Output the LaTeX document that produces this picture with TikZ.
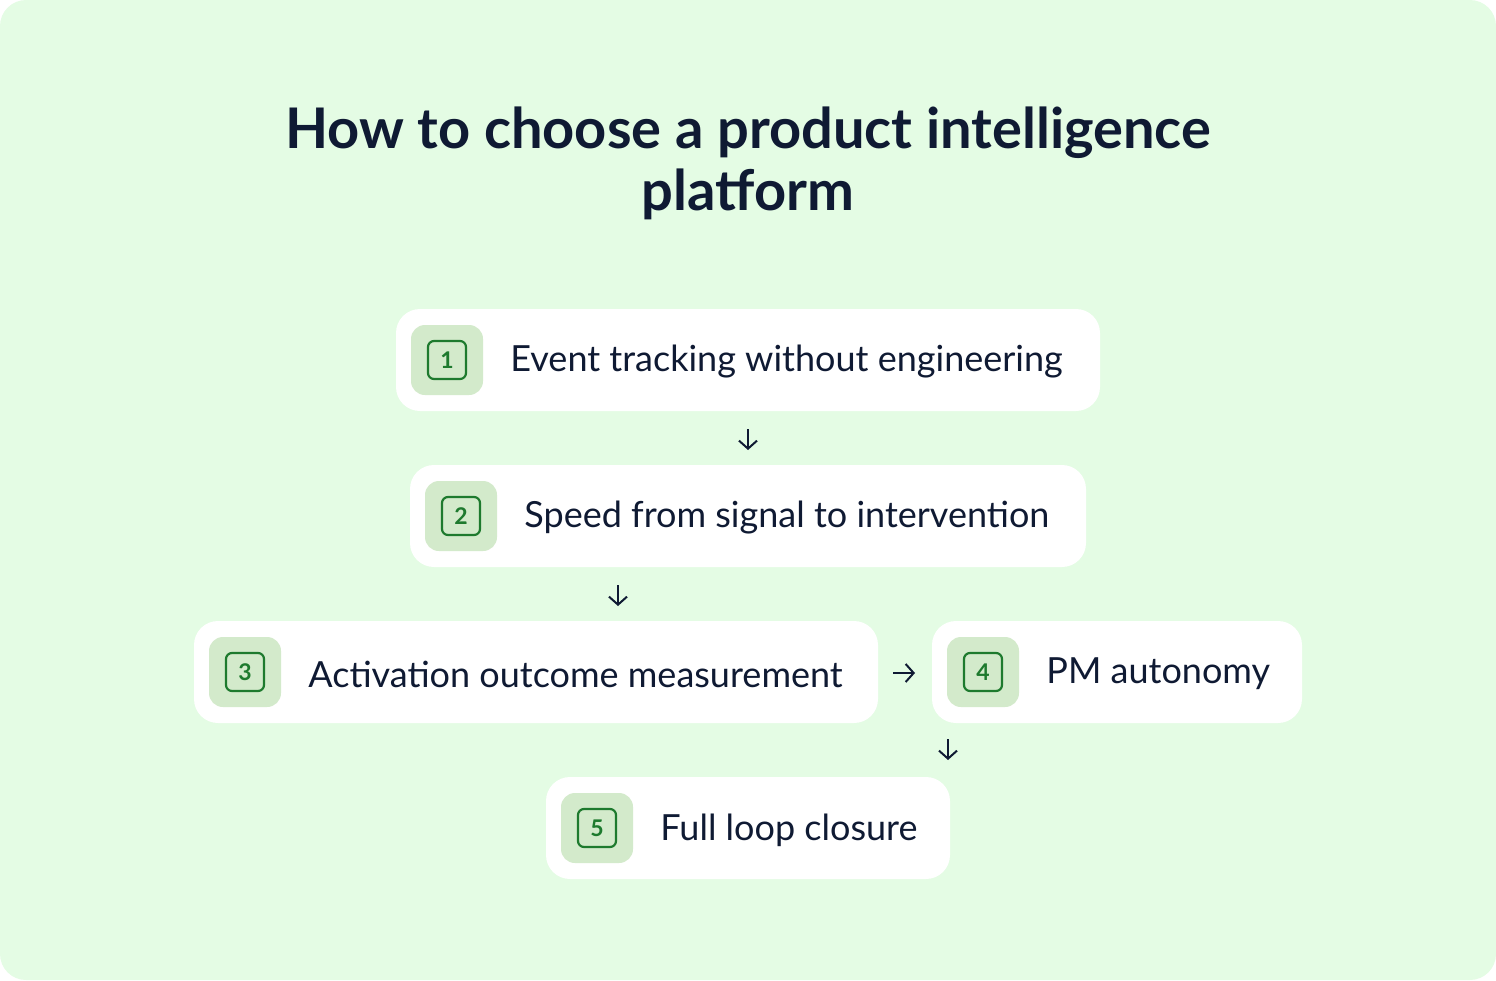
\documentclass[tikz,border=0pt]{standalone}
\usepackage{fontspec}
\setmainfont{Lato}
\usetikzlibrary{positioning,calc,arrows.meta}
\definecolor{bgmint}{HTML}{E4FCE4}
\definecolor{badgefill}{HTML}{D3EACB}
\definecolor{badgeline}{HTML}{1E7A2E}
\definecolor{ink}{HTML}{0F1A33}
\tikzset{
  card/.style={fill=white, rounded corners=24pt},
  badge/.style={fill=badgefill, rounded corners=14pt, minimum width=72pt, minimum height=70pt, inner sep=0pt},
  numbox/.style={draw=badgeline, line width=2.2pt, rounded corners=6pt, minimum size=38pt, inner sep=0pt,
    text=badgeline, font=\fontsize{23}{23}\selectfont\bfseries},
  steptext/.style={anchor=west, text=ink, font=\fontsize{36}{36}\selectfont, inner sep=0pt, yshift=-2pt},
  flow/.style={-{Straight Barb[length=8pt,width=18pt]}, line width=2pt, draw=ink}
}
\begin{document}
\begin{tikzpicture}[x=1pt,y=-1pt]
    % Background
    \fill[bgmint, rounded corners=26pt] (0,0) rectangle (1496,980);
    \useasboundingbox (0,0) rectangle (1496,980);

    % Title
    \node[text=ink, font=\fontsize{56}{62}\selectfont\bfseries, align=center] (title) at (748,163)
      {How to choose a product intelligence\\platform};

    % Cards
    \fill[card] (396,309) rectangle (1100,411);
    \fill[card] (410,465) rectangle (1086,567);
    \fill[card] (194,621) rectangle (878,723);
    \fill[card] (932,621) rectangle (1302,723);
    \fill[card] (546,777) rectangle (950,879);

    % Badges
    \foreach \n/\x/\y in {1/447/360, 2/461/516, 3/245/672, 4/983/672, 5/597/828} {
      \node[badge] (b\n) at (\x,\y) {};
      \node[numbox] (n\n) at (b\n) {\n};
    }

    % Labels
    \node[steptext, right=27pt of b1] (s1) {Event tracking without engineering};
    \node[steptext, right=27pt of b2] (s2) {Speed from signal to intervention};
    \node[steptext, right=27pt of b3] (s3) {Activation outcome measurement};
    \node[steptext, right=27pt of b4] (s4) {PM autonomy};
    \node[steptext, right=27pt of b5] (s5) {Full loop closure};

    % Arrows
    \coordinate (a1) at (748,429); \coordinate (a1e) at (748,450);
    \coordinate (a2) at (618,585); \coordinate (a2e) at (618,606);
    \coordinate (a3) at (893,673); \coordinate (a3e) at (915,673);
    \coordinate (a4) at (948,739); \coordinate (a4e) at (948,760);
    \draw[flow] (a1) -- (a1e);
    \draw[flow] (a2) -- (a2e);
    \draw[flow] (a3) -- (a3e);
    \draw[flow] (a4) -- (a4e);
\end{tikzpicture}
\end{document}
